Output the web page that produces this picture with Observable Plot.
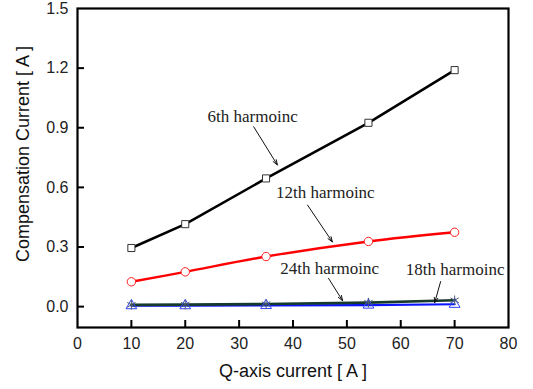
<!DOCTYPE html>
<html>
<head>
<meta charset="utf-8">
<script src="https://cdn.jsdelivr.net/npm/d3@7"></script>
<script src="https://cdn.jsdelivr.net/npm/@observablehq/plot@0.6"></script>
<style>
  html, body { margin: 0; padding: 0; background: #fff; }
  #chart svg { display: block; }
</style>
</head>
<body>
<div id="chart"></div>
<script>
// Q-axis current [A]
const qCurrent = [10, 20, 35, 54, 70];
// Compensation current [A] per harmonic
const h6  = [0.295, 0.415, 0.645, 0.925, 1.19];
const h12 = [0.125, 0.175, 0.252, 0.328, 0.374];
const h24 = [0.009, 0.010, 0.013, 0.020, 0.032];
const h18 = [0.005, 0.005, 0.006, 0.008, 0.012];

const xTicks = [0, 10, 20, 30, 40, 50, 60, 70, 80];
const yTicks = [0, 0.3, 0.6, 0.9, 1.2, 1.5];
const xDomain = [0, 80];
const yDomain = [-0.105, 1.5];
const xTitle = "Q-axis current [ A ]";
const yTitle = "Compensation Current [ A ]";

// annotation labels: text position and arrow (tail -> head) in data units
const labels = [
  {text: "6th harmoinc",  x: 32.5, y: 0.955, x1: 32.7, y1: 0.905, x2: 37.1, y2: 0.713},
  {text: "12th harmoinc", x: 46.0, y: 0.572, x1: 42.7, y1: 0.511, x2: 47.3, y2: 0.326},
  {text: "24th harmoinc", x: 46.8, y: 0.192, x1: 46.6, y1: 0.142, x2: 49.2, y2: 0.030},
  {text: "18th harmoinc", x: 70.1, y: 0.188, x1: 67.4, y1: 0.126, x2: 66.3, y2: 0.020}
];

const rows = (vals) => qCurrent.map((q, i) => ({q, v: vals[i]}));
const d6 = rows(h6), d12 = rows(h12), d24 = rows(h24), d18 = rows(h18);

const sans = "'Liberation Sans', Arial, sans-serif";
const serif = "'Liberation Serif', 'Times New Roman', serif";

const chart = Plot.plot({
  width: 533,
  height: 389,
  marginLeft: 77,
  marginRight: 25,
  marginTop: 8,
  marginBottom: 62,
  style: {fontFamily: sans, fontSize: "16px", color: "#222", background: "#fff"},
  x: {domain: xDomain, ticks: xTicks, label: xTitle},
  y: {domain: yDomain, ticks: yTicks, label: yTitle},
  marks: [
    Plot.axisX({ticks: xTicks, tickSize: 0, tickPadding: 10, fontSize: 16, label: null, fill: "#222"}),
    Plot.axisX({ticks: [], tickSize: 0, label: xTitle,
      labelAnchor: "center", labelArrow: "none", labelOffset: 49, fontSize: 18, fill: "#111"}),
    Plot.axisY({ticks: yTicks, tickSize: 0, tickPadding: 9, tickFormat: d3.format(".1f"),
      fontSize: 16, label: null, fill: "#222"}),
    Plot.text([yTitle], {frameAnchor: "left", text: d => d, rotate: -90, dx: -54, dy: -14,
      textAnchor: "middle", lineAnchor: "middle", fontSize: 18, fill: "#111", fontFamily: sans}),
    // inward ticks
    Plot.ruleX(xTicks.slice(1, -1), {x: d => d, y1: yDomain[0], y2: yDomain[0], insetTop: -7, stroke: "#000", strokeWidth: 2}),
    Plot.ruleY(yTicks.slice(0, -1), {y: d => d, x1: xDomain[0], x2: xDomain[0], insetRight: -7, stroke: "#000", strokeWidth: 2}),
    Plot.frame({stroke: "#000", strokeWidth: 2.2}),

    // 18th harmonic (blue, triangles)
    Plot.line(d18, {x: "q", y: "v", stroke: "#0a14ff", strokeWidth: 2.2}),
    // 24th harmonic (dark, asterisks)
    Plot.line(d24, {x: "q", y: "v", stroke: "#163a2c", strokeWidth: 2.6}),
    Plot.dot(d18, {x: "q", y: "v", symbol: "triangle", r: 4, stroke: "#3344ff", fill: "none", strokeWidth: 1}),
    Plot.dot(d24, {x: "q", y: "v", symbol: "asterisk", r: 4.5, stroke: "#4a5a70", strokeWidth: 1}),

    // 12th harmonic (red, circles)
    Plot.line(d12, {x: "q", y: "v", stroke: "#ff0000", strokeWidth: 2.4, curve: "catmull-rom"}),
    Plot.dot(d12, {x: "q", y: "v", symbol: "circle", r: 4.2, stroke: "#ff2020", fill: "#fff", strokeWidth: 1}),

    // 6th harmonic (black, squares)
    Plot.line(d6, {x: "q", y: "v", stroke: "#000", strokeWidth: 2.6}),
    Plot.dot(d6, {x: "q", y: "v", symbol: "square", r: 4, stroke: "#333", fill: "#fff", strokeWidth: 1}),

    // annotations
    Plot.arrow(labels, {x1: "x1", y1: "y1", x2: "x2", y2: "y2", stroke: "#111", strokeWidth: 1, headLength: 8, headAngle: 40}),
    Plot.text(labels, {x: "x", y: "y", text: "text", fontFamily: serif, fontSize: 17, fill: "#222"})
  ]
});

document.getElementById("chart").appendChild(chart);
</script>
</body>
</html>
